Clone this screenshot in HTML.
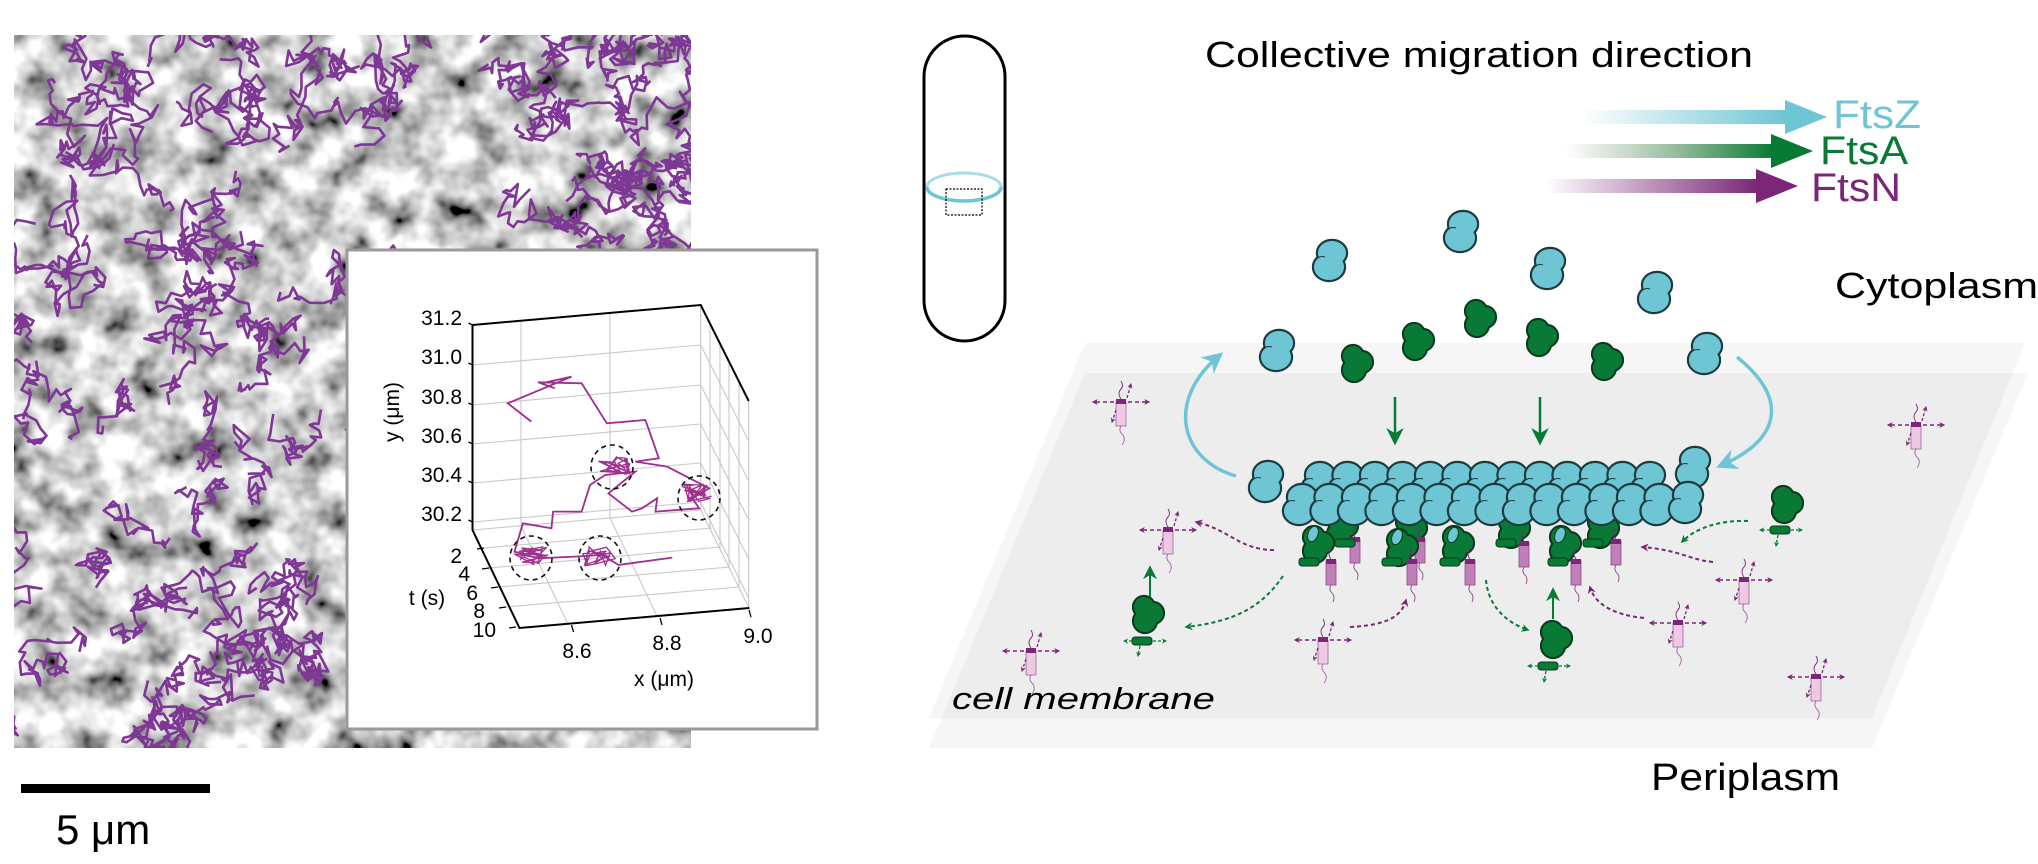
<!DOCTYPE html>
<html><head><meta charset="utf-8"><style>
html,body{margin:0;padding:0;background:#fff;}
svg{display:block;}
text{font-family:"Liberation Sans",Arial,sans-serif;}
</style></head><body>
<svg id="s" width="2038" height="864" viewBox="0 0 2038 864" xmlns="http://www.w3.org/2000/svg">
<defs>
<filter id="tex" x="0" y="0" width="100%" height="100%">
<feTurbulence type="fractalNoise" baseFrequency="0.03" numOctaves="3" seed="7"/>
<feColorMatrix type="matrix" values="2.0 0 0 0 -0.38  2.0 0 0 0 -0.38  2.0 0 0 0 -0.38  0 0 0 0 1"/>
</filter>
<clipPath id="mc"><rect x="14" y="35" width="677" height="713"/></clipPath>
<linearGradient id="gz" x1="0" x2="1"><stop offset="0" stop-color="#6ec5d4" stop-opacity="0"/><stop offset="1" stop-color="#6ec5d4"/></linearGradient>
<linearGradient id="ga" x1="0" x2="1"><stop offset="0" stop-color="#6a8a5a" stop-opacity="0"/><stop offset="1" stop-color="#087a35"/></linearGradient>
<linearGradient id="gn" x1="0" x2="1"><stop offset="0" stop-color="#7b2676" stop-opacity="0"/><stop offset="1" stop-color="#7b2676"/></linearGradient>
<marker id="ap" viewBox="0 0 10 10" refX="8" refY="5" markerWidth="4" markerHeight="4" orient="auto-start-reverse"><path d="M0 0L10 5L0 10L3 5z" fill="#7b2676"/></marker>
<marker id="ag" viewBox="0 0 10 10" refX="8" refY="5" markerWidth="4" markerHeight="4" orient="auto-start-reverse"><path d="M0 0L10 5L0 10L3 5z" fill="#087a35"/></marker>
<marker id="ag2" viewBox="0 0 10 10" refX="8" refY="5" markerWidth="7" markerHeight="7" orient="auto"><path d="M0 0L10 5L0 10L3 5z" fill="#087a35"/></marker>
<marker id="ac" viewBox="0 0 10 10" refX="8" refY="5" markerWidth="6" markerHeight="6" orient="auto"><path d="M0 0L10 5L0 10L3 5z" fill="#6ec5d4"/></marker>
<g id="z">
<g stroke="#1d3c40" stroke-width="2.4" fill="#6ec5d4"><ellipse cx="2" cy="-8" rx="15" ry="13"/><ellipse cx="-1" cy="6" rx="16" ry="14"/></g>
<g fill="#6ec5d4"><ellipse cx="2" cy="-8" rx="14" ry="12"/><ellipse cx="-1" cy="6" rx="15" ry="13"/></g>
<path d="M-15 0 q4 -6 10 -4" fill="none" stroke="#1d3c40" stroke-width="1"/>
</g>
<g id="a">
<g stroke="#0b3a1c" stroke-width="2.2" fill="#087a35"><circle cx="-3" cy="-8" r="11"/><circle cx="6" cy="-2" r="11"/><circle cx="-2" cy="6" r="12"/></g>
<g fill="#087a35"><circle cx="-3" cy="-8" r="10"/><circle cx="6" cy="-2" r="10"/><circle cx="-2" cy="6" r="11"/></g>
</g>
<g id="n">
<path d="M0 -3 q-4 -6 0 -10 q3 -3 0 -8" fill="none" stroke="#7b2676" stroke-width="0.9"/>
<line x1="6" y1="-4" x2="10" y2="-18" stroke="#7b2676" stroke-width="1.3" stroke-dasharray="3 2" marker-end="url(#ap)"/>
<line x1="-7" y1="0" x2="-28" y2="0" stroke="#7b2676" stroke-width="1.5" stroke-dasharray="4 3" marker-end="url(#ap)"/>
<line x1="7" y1="0" x2="28" y2="0" stroke="#7b2676" stroke-width="1.5" stroke-dasharray="4 3" marker-end="url(#ap)"/>
<rect x="-5" y="0" width="10" height="24" fill="#eec9e4" stroke="#a064a0" stroke-width="0.8"/>
<rect x="-5" y="-3" width="10" height="5" fill="#7b2676"/>
<line x1="-5" y1="8" x2="-9" y2="20" stroke="#7b2676" stroke-width="1.3" stroke-dasharray="3 2" marker-end="url(#ap)"/>
<path d="M0 24 q-3 5 2 9 q3 5 -1 10" fill="none" stroke="#a064a0" stroke-width="0.9"/>
</g>
<g id="c">
<path d="M0 -3 q-4 -5 0 -10" fill="none" stroke="#7b2676" stroke-width="0.9"/>
<rect x="-5" y="-1" width="10" height="24" fill="#c17fb9" stroke="#8d4a86" stroke-width="0.8"/>
<rect x="-5" y="-3" width="10" height="5" fill="#7b2676"/>
<path d="M0 23 q-3 5 2 9 q2 4 0 8" fill="none" stroke="#8d4a86" stroke-width="0.9"/>
</g>
<rect id="sl" x="-10" y="-4" width="20" height="8" rx="3" fill="#087a35" stroke="#0b3a1c" stroke-width="1"/>
</defs>

<g clip-path="url(#mc)">
<rect x="14" y="35" width="677" height="713" filter="url(#tex)"/>
<g id="tracks" fill="none" stroke="#7e3794" stroke-width="2.6" stroke-linejoin="round"></g>
</g>
<rect x="21" y="784" width="189" height="9" fill="#000"/>
<text x="56" y="844" font-size="42">5 μm</text>

<rect x="347" y="250" width="470" height="479" fill="#fff" stroke="#9a9a9a" stroke-width="3"/>
<g stroke="#c8c8c8" stroke-width="1.1" fill="none">
<line x1="521" y1="321" x2="521" y2="526"/><line x1="610" y1="313" x2="610" y2="518"/>
<line x1="472.5" y1="365" x2="700.7" y2="345"/><line x1="472.5" y1="405" x2="700.7" y2="385"/>
<line x1="472.5" y1="444" x2="700.7" y2="424"/><line x1="472.5" y1="483" x2="700.7" y2="463"/>
<line x1="472.5" y1="522" x2="700.7" y2="502"/>
<line x1="700.7" y1="305" x2="700.7" y2="510"/>
<line x1="700.7" y1="345" x2="748.7" y2="441"/><line x1="700.7" y1="385" x2="748.7" y2="481"/>
<line x1="700.7" y1="424" x2="748.7" y2="520"/><line x1="700.7" y1="463" x2="748.7" y2="559"/>
<line x1="700.7" y1="502" x2="748.7" y2="598"/>
<line x1="710" y1="324" x2="710" y2="529"/><line x1="720" y1="344" x2="720" y2="549"/>
<line x1="729" y1="362" x2="729" y2="567"/><line x1="739" y1="382" x2="739" y2="587"/>
<line x1="748.7" y1="401" x2="748.7" y2="608"/>
<line x1="700.7" y1="510" x2="472.5" y2="530"/><line x1="700.7" y1="510" x2="749" y2="608"/>
<line x1="521" y1="526" x2="568" y2="624"/><line x1="610" y1="518" x2="657" y2="616"/>
<line x1="484" y1="548" x2="712" y2="528"/><line x1="489" y1="568" x2="720" y2="547"/>
<line x1="498" y1="587" x2="730" y2="567"/><line x1="506" y1="607" x2="739" y2="587"/>
</g>
<g stroke="#000" stroke-width="2" fill="none">
<path d="M472.5 325 L700.7 305 L748.7 401"/>
<path d="M472.5 325 L472.5 530 L519.5 628 L749.4 608"/>
<path d="M472.5 325 l-4 -2 M472.5 365 l-4 -2 M472.5 405 l-4 -2 M472.5 444 l-4 -2 M472.5 483 l-4 -2 M472.5 522 l-4 -2" stroke-width="1.3"/>
<path d="M484 548 l-7 1 M489 568 l-7 1 M498 587 l-7 1 M506 607 l-7 1 M516 627 l-7 1" stroke-width="1.3"/>
<path d="M571.5 625 l2 7 M660 618 l2 7 M749 610 l2 7" stroke-width="1.3"/>
</g>
<g id="itrack" transform="translate(340,245) scale(0.3356,0.3333)" fill="none" stroke="#a0308f" stroke-width="5.5"></g>
<g fill="none" stroke="#111" stroke-width="1.6" stroke-dasharray="5 4">
<ellipse cx="612" cy="467" rx="21" ry="22"/><ellipse cx="699" cy="498" rx="21" ry="22"/>
<ellipse cx="531" cy="558" rx="21" ry="22"/><ellipse cx="600" cy="558" rx="21" ry="22"/>
</g>
<g font-size="21" fill="#000" text-anchor="end">
<text x="462" y="325">31.2</text><text x="462" y="364">31.0</text><text x="462" y="404">30.8</text>
<text x="462" y="443">30.6</text><text x="462" y="482">30.4</text><text x="462" y="521">30.2</text>
<text x="462" y="563">2</text><text x="470" y="581">4</text><text x="478" y="600">6</text>
<text x="485" y="618">8</text><text x="496" y="637">10</text>
</g>
<g font-size="21" fill="#000" text-anchor="middle">
<text x="577" y="658">8.6</text><text x="667" y="650">8.8</text><text x="758" y="643">9.0</text>
<text x="664" y="686">x (μm)</text>
</g>
<text x="427" y="605" font-size="21" text-anchor="middle">t (s)</text>
<text transform="translate(399,412) rotate(-90)" font-size="21" text-anchor="middle">y (μm)</text>

<rect x="924" y="36" width="81" height="305" rx="40.5" fill="none" stroke="#000" stroke-width="3"/>
<ellipse cx="964" cy="187" rx="37" ry="14" fill="none" stroke="#a8dde6" stroke-width="3"/>
<path d="M927 187 a37 14 0 0 0 74 0" fill="none" stroke="#6ec5d4" stroke-width="3.5"/>
<rect x="946" y="189" width="36" height="26" fill="none" stroke="#000" stroke-width="1.2" stroke-dasharray="2 1.5"/>

<text x="1205" y="67" font-size="36" textLength="548" lengthAdjust="spacingAndGlyphs">Collective migration direction</text>
<rect x="1582" y="110" width="205" height="14" fill="url(#gz)"/>
<path d="M1785 100 L1827 117 L1785 134Z" fill="#6ec5d4"/>
<text x="1833" y="128" font-size="40" fill="#6ec5d4" textLength="88" lengthAdjust="spacingAndGlyphs">FtsZ</text>
<rect x="1564" y="144" width="209" height="14" fill="url(#ga)"/>
<path d="M1771 134 L1813 151 L1771 168Z" fill="#087a35"/>
<text x="1820" y="164" font-size="40" fill="#087a35" textLength="88" lengthAdjust="spacingAndGlyphs">FtsA</text>
<rect x="1546" y="179" width="212" height="14" fill="url(#gn)"/>
<path d="M1756 169 L1798 186 L1756 203Z" fill="#7b2676"/>
<text x="1811" y="201" font-size="40" fill="#7b2676" textLength="90" lengthAdjust="spacingAndGlyphs">FtsN</text>
<text x="1835" y="298" font-size="36" textLength="203" lengthAdjust="spacingAndGlyphs">Cytoplasm</text>

<path d="M1085 343 L2025 343 L1872 718 L929 718Z" fill="#000" fill-opacity="0.035"/>
<path d="M1085 373 L2028 373 L1872 748 L929 748Z" fill="#000" fill-opacity="0.035"/>
<text x="952" y="709" font-size="31" font-style="italic" textLength="263" lengthAdjust="spacingAndGlyphs">cell membrane</text>
<text x="1651" y="790" font-size="38" textLength="189" lengthAdjust="spacingAndGlyphs">Periplasm</text>

<use href="#z" x="1330" y="261"/><use href="#z" x="1461" y="232"/><use href="#z" x="1548" y="269"/>
<use href="#z" x="1655" y="293"/><use href="#z" x="1277" y="351"/><use href="#z" x="1705" y="354"/>
<use href="#a" x="1356" y="364"/><use href="#a" x="1417" y="342"/><use href="#a" x="1479" y="319"/>
<use href="#a" x="1541" y="338"/><use href="#a" x="1606" y="362"/>

<path d="M1236 476 C1180 460 1165 400 1220 355" fill="none" stroke="#6ec5d4" stroke-width="3.5" marker-end="url(#ac)"/>
<path d="M1737 357 C1790 400 1780 440 1720 466" fill="none" stroke="#6ec5d4" stroke-width="3.5" marker-end="url(#ac)"/>
<line x1="1395" y1="397" x2="1395" y2="442" stroke="#087a35" stroke-width="2.5" marker-end="url(#ag2)"/>
<line x1="1540" y1="397" x2="1540" y2="442" stroke="#087a35" stroke-width="2.5" marker-end="url(#ag2)"/>

<use href="#a" x="1341" y="528"/><use href="#a" x="1410" y="530"/><use href="#a" x="1513" y="530"/><use href="#a" x="1602" y="530"/>
<use href="#c" x="1355" y="540"/><use href="#c" x="1420" y="540"/><use href="#c" x="1524" y="544"/><use href="#c" x="1616" y="542"/>
<g id="fil"></g>
<use href="#a" x="1317" y="545"/><use href="#a" x="1401" y="548"/><use href="#a" x="1457" y="545"/><use href="#a" x="1564" y="545"/>
<ellipse cx="1313" cy="534" rx="5" ry="8" fill="#6ec5d4" stroke="#0b3a1c" transform="rotate(20 1313 534)"/>
<ellipse cx="1397" cy="537" rx="5" ry="8" fill="#6ec5d4" stroke="#0b3a1c" transform="rotate(20 1397 537)"/>
<ellipse cx="1453" cy="535" rx="5" ry="8" fill="#6ec5d4" stroke="#0b3a1c" transform="rotate(20 1453 535)"/>
<ellipse cx="1560" cy="535" rx="5" ry="8" fill="#6ec5d4" stroke="#0b3a1c" transform="rotate(20 1560 535)"/>
<use href="#sl" x="1309" y="562"/><use href="#sl" x="1392" y="562"/><use href="#sl" x="1450" y="562"/>
<use href="#sl" x="1506" y="543"/><use href="#sl" x="1558" y="562"/><use href="#sl" x="1593" y="543"/><use href="#sl" x="1345" y="543"/>
<use href="#c" x="1331" y="562"/><use href="#c" x="1412" y="562"/><use href="#c" x="1470" y="562"/><use href="#c" x="1576" y="562"/>

<use href="#n" x="1121" y="402"/><use href="#n" x="1168" y="530"/><use href="#n" x="1916" y="425"/>
<use href="#n" x="1744" y="580"/><use href="#n" x="1678" y="623"/><use href="#n" x="1323" y="640"/>
<use href="#n" x="1031" y="651"/><use href="#n" x="1816" y="677"/>

<use href="#a" x="1147" y="615"/><use href="#sl" x="1142" y="641"/>
<use href="#a" x="1555" y="640"/><use href="#sl" x="1548" y="666"/>
<use href="#a" x="1786" y="505"/><use href="#sl" x="1780" y="530"/>
<g stroke="#087a35" stroke-width="1.3" stroke-dasharray="3 2" fill="none">
<line x1="1132" y1="641" x2="1124" y2="641" marker-end="url(#ag)"/><line x1="1153" y1="641" x2="1166" y2="641" marker-end="url(#ag)"/><line x1="1140" y1="646" x2="1138" y2="656" marker-end="url(#ag)"/>
<line x1="1538" y1="666" x2="1528" y2="666" marker-end="url(#ag)"/><line x1="1559" y1="666" x2="1570" y2="666" marker-end="url(#ag)"/><line x1="1546" y1="671" x2="1544" y2="682" marker-end="url(#ag)"/>
<line x1="1770" y1="530" x2="1760" y2="530" marker-end="url(#ag)"/><line x1="1791" y1="530" x2="1802" y2="530" marker-end="url(#ag)"/><line x1="1778" y1="535" x2="1776" y2="546" marker-end="url(#ag)"/>
</g>
<line x1="1150" y1="597" x2="1150" y2="568" stroke="#087a35" stroke-width="2" marker-end="url(#ag2)"/>
<line x1="1553" y1="619" x2="1553" y2="590" stroke="#087a35" stroke-width="2" marker-end="url(#ag2)"/>
<g fill="none" stroke="#087a35" stroke-width="2" stroke-dasharray="4 3">
<path d="M1283 576 C1260 610 1230 622 1186 627" marker-end="url(#ag)"/>
<path d="M1486 580 C1488 605 1505 622 1528 630" marker-end="url(#ag)"/>
<path d="M1748 521 C1720 520 1695 528 1682 542" marker-end="url(#ag)"/>
</g>
<g fill="none" stroke="#7b2676" stroke-width="2" stroke-dasharray="4 3">
<path d="M1274 550 C1240 550 1230 530 1196 522" marker-end="url(#ap)"/>
<path d="M1350 627 C1390 625 1402 615 1406 600" marker-end="url(#ap)"/>
<path d="M1713 562 C1690 560 1680 550 1642 547" marker-end="url(#ap)"/>
<path d="M1644 618 C1615 615 1595 605 1590 587" marker-end="url(#ap)"/>
</g>
</svg>
<script>
(function(){
var NS="http://www.w3.org/2000/svg";
var s=12345;function r(){s|=0;s=s+0x6D2B79F5|0;var t=Math.imul(s^s>>>15,1|s);t=t+Math.imul(t^t>>>7,61|t)^t;return((t^t>>>14)>>>0)/4294967296;}
var g=document.getElementById('tracks');
var centers=[[90,90],[170,260],[260,90],[380,40],[560,80],[640,110],[600,280],[480,300],[80,400],[200,440],[300,420],[130,560],[60,700],[200,640],[300,560],[400,380],[560,160],[40,240],[660,230],[230,330],[170,730],[600,50]];
for(var i=0;i<75;i++){
 var c=centers[i%centers.length];
 var x=c[0]+(r()-0.5)*120,y=c[1]+(r()-0.5)*120;
 var n=25+Math.floor(r()*60),d="M"+x.toFixed(1)+" "+y.toFixed(1);
 for(var k=0;k<n;k++){var a=r()*6.283,l=3+r()*13;x+=Math.cos(a)*l;y+=Math.sin(a)*l;d+="L"+x.toFixed(1)+" "+y.toFixed(1);}
 var p=document.createElementNS(NS,'path');p.setAttribute('d',d);g.appendChild(p);
}
var it=document.getElementById('itrack');
var pts=[[570,530],[500,475],[690,395],[600,415],[640,430],[590,412],[720,415],[795,535],[910,525],[950,640],[880,650],[975,665],[1100,730],[1050,760],[1070,790],[940,800],[945,760],[900,790],[870,800],[800,745],[880,680],[790,690],[745,720],[720,800],[635,800],[630,850],[545,835],[520,920],[590,940],[700,935],[780,930],[830,960],[990,938]];
var d="M"+pts.map(function(p){return p[0]+" "+p[1];}).join("L");
var p=document.createElementNS(NS,'path');p.setAttribute('d',d);it.appendChild(p);
var cl=[[812,665,70],[1060,745,60],[565,935,70],[770,935,65]];
cl.forEach(function(c){var x=c[0],y=c[1],dd="M"+x+" "+y;for(var k=0;k<25;k++){x=c[0]+(r()-0.5)*c[2]*1.6;y=c[1]+(r()-0.5)*c[2]*0.9;dd+="L"+x.toFixed(0)+" "+y.toFixed(0);}
var q=document.createElementNS(NS,'path');q.setAttribute('d',dd);q.setAttribute('stroke-width','4');it.appendChild(q);});
var f=document.getElementById('fil');
function z(x,y){var u=document.createElementNS(NS,'use');u.setAttribute('href','#z');u.setAttribute('x',x);u.setAttribute('y',y);f.appendChild(u);}
z(1266,482);
for(var k=0;k<13;k++)z(1318+k*27.5,483);
z(1693,468);
for(var k=0;k<14;k++)z(1300+k*27.5,505);
z(1686,503);
})();
</script>
</body></html>
